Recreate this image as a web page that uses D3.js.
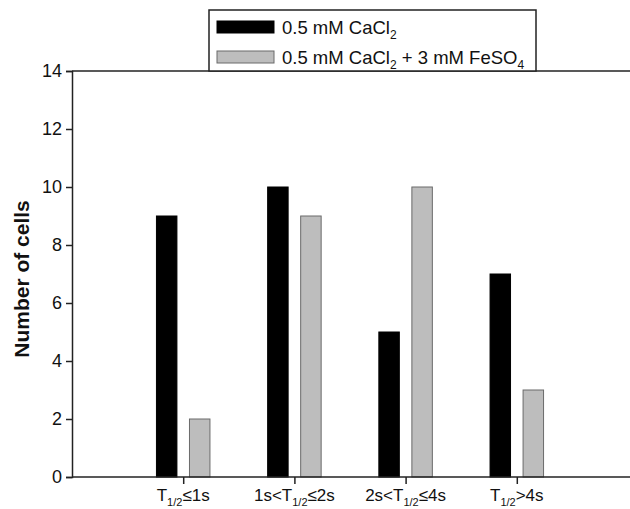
<!DOCTYPE html>
<html>
<head>
<meta charset="utf-8">
<script src="https://cdn.jsdelivr.net/npm/d3@7"></script>
<style>
  html, body { margin: 0; padding: 0; background: #fff; }
  svg { display: block; font-family: Arial, "Liberation Sans", sans-serif; }
</style>
</head>
<body>
<svg id="chart" width="630" height="509"></svg>
<script>
// ---- data ----
const categories = ["c1", "c2", "c3", "c4"];
const labelPre  = ["T", "1s<T", "2s<T", "T"];
const labelSub  = ["1/2", "1/2", "1/2", "1/2"];
const labelPost = ["≤1s", "≤2s", "≤4s", ">4s"];
const seriesNames = ["0.5 mM CaCl2", "0.5 mM CaCl2 + 3 mM FeSO4"];
const seriesCaCl2 = [9, 10, 5, 7];
const seriesCaCl2FeSO4 = [2, 9, 10, 3];
const yTicks = [0, 2, 4, 6, 8, 10, 12, 14];
const yTitle = "Number of cells";

// ---- layout ----
const svg = d3.select("#chart");
const mLeft = 72, mRight = 630, mTop = 71, mBottom = 477;
const axisColor = "#222";
const fills = ["#000000", "#bdbdbd"];
const strokes = ["#000000", "#6a6a6a"];

const x = d3.scalePoint().domain(categories).range([mLeft, 628]).padding(1);
const xs = d3.scaleBand().domain([0, 1]).range([-26.75, 26.75]).paddingInner(0.38).paddingOuter(0);
const y = d3.scaleLinear().domain([0, 14]).range([mBottom, mTop]);

const seriesData = [seriesCaCl2, seriesCaCl2FeSO4];

// bars
seriesData.forEach((vals, si) => {
  svg.append("g").selectAll("rect")
    .data(vals)
    .join("rect")
    .attr("x", (d, i) => x(categories[i]) + xs(si))
    .attr("y", d => y(d))
    .attr("width", xs.bandwidth())
    .attr("height", d => y(0) - y(d))
    .attr("fill", fills[si])
    .attr("stroke", strokes[si])
    .attr("stroke-width", 1);
});

// y axis
const yAxis = svg.append("g")
  .attr("transform", `translate(${mLeft},0)`)
  .call(d3.axisLeft(y).tickValues(yTicks).tickSize(6).tickPadding(4).tickFormat(d3.format("d")));
yAxis.select(".domain").attr("stroke", axisColor).attr("stroke-width", 1.5);
yAxis.selectAll(".tick line").attr("stroke", axisColor).attr("stroke-width", 1.5);
yAxis.selectAll(".tick text")
  .attr("font-size", 18).attr("fill", "#111")
  .attr("font-family", "Arial, 'Liberation Sans', sans-serif");

// x axis
const xAxis = svg.append("g")
  .attr("transform", `translate(0,${mBottom})`)
  .call(d3.axisBottom(x).tickSize(7).tickSizeOuter(0).tickFormat(""));
xAxis.select(".domain").attr("stroke", axisColor).attr("stroke-width", 1.5)
  .attr("d", `M${mLeft},0H${mRight}`);
xAxis.selectAll(".tick line").attr("stroke", axisColor).attr("stroke-width", 1.5);

// x tick labels with subscripts
const xl = svg.append("g").selectAll("text")
  .data(categories)
  .join("text")
  .attr("x", d => x(d))
  .attr("y", 501)
  .attr("text-anchor", "middle")
  .attr("font-size", 17)
  .attr("fill", "#111");
xl.append("tspan").text((d, i) => labelPre[i]);
xl.append("tspan").attr("font-size", 11).attr("dy", 5).text((d, i) => labelSub[i]);
xl.append("tspan").attr("dy", -5).text((d, i) => labelPost[i]);

// top frame line
svg.append("line")
  .attr("x1", mLeft).attr("x2", mRight)
  .attr("y1", y(14)).attr("y2", y(14))
  .attr("stroke", axisColor).attr("stroke-width", 1.5);

// y title
svg.append("text")
  .attr("transform", `translate(29,${(mTop + mBottom) / 2 + 5}) rotate(-90)`)
  .attr("text-anchor", "middle")
  .attr("font-size", 21)
  .attr("font-weight", "bold")
  .attr("fill", "#111")
  .text(yTitle);

// legend
const lg = svg.append("g");
lg.append("rect")
  .attr("x", 209).attr("y", 10).attr("width", 327).attr("height", 61)
  .attr("fill", "#fff").attr("stroke", axisColor).attr("stroke-width", 1.5);
const legendRows = [
  { parts: [["0.5 mM CaCl", 0], ["2", 1]] },
  { parts: [["0.5 mM CaCl", 0], ["2", 1], [" + 3 mM FeSO", 0], ["4", 1]] }
];
legendRows.forEach((row, i) => {
  const yy = 21 + i * 30;
  lg.append("rect")
    .attr("x", 217).attr("y", yy).attr("width", 57).attr("height", 12)
    .attr("fill", fills[i]).attr("stroke", strokes[i]).attr("stroke-width", 1);
  const t = lg.append("text")
    .attr("x", 282).attr("y", yy + 13)
    .attr("font-size", 18.5).attr("fill", "#111");
  let sub = false;
  row.parts.forEach(([s, isSub]) => {
    const ts = t.append("tspan").text(s);
    if (isSub && !sub) { ts.attr("font-size", 12).attr("dy", 5); sub = true; }
    else if (!isSub && sub) { ts.attr("dy", -5); sub = false; }
  });
});
</script>
</body>
</html>
